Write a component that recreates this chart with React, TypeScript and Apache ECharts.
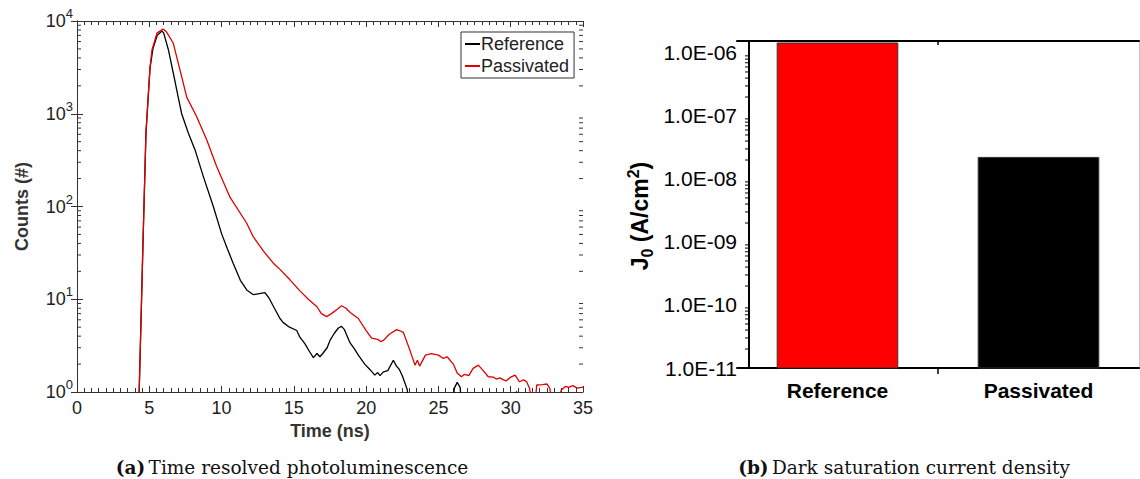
import React, { useEffect, useRef } from 'react';
import * as echarts from 'echarts';

// ---------- Data: (a) Time resolved photoluminescence ----------
const referenceTime = [4.0, 4.3, 4.45, 4.57, 4.77, 5.05, 5.25, 5.55, 5.88, 6.0, 6.32, 6.66, 7.0, 7.24, 7.7, 8.16, 8.74, 9.43, 10.0, 10.4, 10.8, 11.3, 11.74, 12.2, 12.6, 13.0, 13.3, 13.6, 14.04, 14.27, 14.7, 15.2, 15.42, 15.77, 16.1, 16.35, 16.6, 16.8, 17.0, 17.3, 17.5, 17.8, 18.08, 18.3, 18.5, 18.88, 19.2, 19.46, 19.9, 20.27, 20.6, 20.8, 20.96, 21.2, 21.5, 21.88, 22.1, 22.3, 22.5, 22.7, 22.85, 23.0, 25.9, 26.1, 26.3, 26.5, 26.7, 30.3, 30.4, 30.5, 35.0];
const referenceCounts = [0.5, 1.0, 8, 44, 620, 3100, 5000, 7000, 7800, 7400, 4900, 2750, 1510, 1000, 620, 410, 210, 100, 51, 35, 24.5, 16, 12.6, 11.2, 11.5, 11.8, 10.2, 8.3, 6.2, 5.6, 5.0, 4.6, 3.9, 3.3, 2.7, 2.35, 2.6, 2.4, 2.6, 3.0, 3.6, 4.3, 4.9, 5.1, 4.7, 3.4, 2.9, 2.5, 2.0, 1.74, 1.52, 1.62, 1.5, 1.65, 1.7, 2.2, 1.9, 1.75, 1.5, 1.23, 1.05, 0.5, 0.5, 1.1, 1.27, 1.12, 0.5, 0.5, 1.02, 0.5, 0.5];

const passivatedTime = [4.0, 4.3, 4.45, 4.57, 4.77, 5.05, 5.19, 5.53, 5.95, 6.2, 6.66, 7.24, 7.59, 8.28, 8.97, 9.66, 10.58, 11.74, 12.2, 12.9, 13.58, 14.04, 14.73, 15.42, 16.0, 16.6, 16.9, 17.27, 17.6, 18.0, 18.3, 18.6, 18.9, 19.46, 20.0, 20.38, 20.8, 21.0, 21.2, 21.6, 22.11, 22.3, 22.57, 23.0, 23.38, 23.55, 23.7, 24.1, 24.53, 25.0, 25.34, 25.6, 26.03, 26.3, 26.6, 26.8, 27.1, 27.4, 27.76, 28.1, 28.45, 28.8, 29.0, 29.25, 29.5, 29.7, 30.0, 30.3, 30.6, 30.9, 31.1, 31.3, 31.5, 31.7, 31.8, 32.2, 32.5, 32.7, 32.9, 33.3, 33.5, 33.8, 34.0, 34.3, 34.6, 35.0];
const passivatedCounts = [0.5, 1.0, 8, 44, 620, 3160, 4900, 7400, 8200, 7600, 5750, 2510, 1510, 930, 525, 270, 126, 66, 47, 33, 24.5, 21, 16.2, 12.3, 10.0, 8.3, 7.0, 6.5, 7.0, 7.8, 8.5, 8.0, 7.2, 6.2, 4.6, 3.8, 3.7, 3.5, 3.6, 4.2, 4.7, 4.6, 4.4, 2.9, 1.95, 2.2, 1.9, 2.5, 2.6, 2.5, 2.3, 2.4, 2.0, 1.6, 1.46, 1.55, 1.5, 1.8, 1.95, 1.7, 1.46, 1.45, 1.38, 1.42, 1.35, 1.32, 1.45, 1.52, 1.29, 1.35, 1.29, 1.1, 0.7, 0.8, 1.19, 1.2, 1.22, 1.1, 0.7, 0.8, 1.05, 1.15, 1.12, 1.17, 1.1, 1.13];

const timeMin = 0;
const timeMax = 35;
const timeInterval = 5;
const countsMin = 1;
const countsMax = 10000;

// ---------- Data: (b) Dark saturation current density ----------
const barCategories = ['Reference', 'Passivated'];
const barValues = [1.44e-6, 2.2e-8];
const barColors = ['#ff0000', '#000000'];
const j0Min = 1e-11;
const j0Max = 1.55e-6;

const captionA = 'Time resolved photoluminescence';
const captionB = 'Dark saturation current density';

const FONT = 'Liberation Sans, Arial, sans-serif';
const SERIF = 'DejaVu Serif, serif';

function logMinorTicks(minExp: number, maxExp: number, maxVal: number) {
  const out: number[] = [];
  for (let e = minExp; e <= maxExp; e++) {
    for (let k = 2; k <= 9; k++) {
      const v = k * Math.pow(10, e);
      if (v < maxVal) out.push(v);
    }
  }
  return out;
}

const countsMinor = logMinorTicks(0, 3, countsMax);
const j0Minor = logMinorTicks(-11, -6, j0Max);

const Y_OFFSET_B = -12;

export default function App() {
  const ref = useRef<HTMLDivElement>(null);

  useEffect(() => {
    if (!ref.current) return;
    const chart = echarts.init(ref.current, undefined, { renderer: 'svg' });

    const pow10Label = (v: number) => {
      const l = Math.log10(v);
      const e = Math.round(l);
      if (Math.abs(l - e) > 1e-6) return '';
      return `{b|10}{s|${e}}`;
    };
    const sciLabel = (v: number) => {
      const l = Math.log10(v);
      const e = Math.round(l);
      if (Math.abs(l - e) > 1e-6) return '';
      const a = Math.abs(e);
      return `1.0E${e < 0 ? '-' : '+'}${a < 10 ? '0' + a : a}`;
    };

    const axisColorA = '#333';
    const textColorA = '#222';

    const option: any = {
      animation: false,
      backgroundColor: '#fff',
      grid: [
        { left: 77, top: 21, width: 506, height: 371 },
        { left: 737, top: 41, width: 402, height: 327 },
      ],
      legend: {
        data: ['Reference', 'Passivated'],
        left: 461,
        top: 32,
        orient: 'vertical',
        icon: 'rect',
        itemWidth: 15,
        itemHeight: 2,
        itemGap: 4,
        padding: [3, 5, 3, 4],
        borderColor: '#333',
        borderWidth: 1,
        backgroundColor: '#fff',
        textStyle: { fontFamily: FONT, fontSize: 18, color: textColorA, padding: [0, 0, 0, -4] },
      },
      xAxis: [
        {
          type: 'value', gridIndex: 0, min: timeMin, max: timeMax, interval: timeInterval,
          axisLine: { lineStyle: { color: axisColorA, width: 1 } },
          axisTick: { inside: true, length: 6, lineStyle: { color: axisColorA } },
          minorTick: { show: true, splitNumber: 10, length: 4, lineStyle: { color: axisColorA } },
          axisLabel: { fontFamily: FONT, fontSize: 18, color: textColorA, margin: 7 },
          splitLine: { show: false },
          name: 'Time (ns)', nameLocation: 'middle', nameGap: 30,
          nameTextStyle: { fontFamily: FONT, fontSize: 18, fontWeight: 'bold', color: '#333' },
        },
        {
          type: 'value', gridIndex: 0, position: 'top', min: timeMin, max: timeMax, interval: timeInterval,
          axisLine: { lineStyle: { color: axisColorA, width: 1 } },
          axisTick: { inside: true, length: 6, lineStyle: { color: axisColorA } },
          minorTick: { show: true, splitNumber: 10, length: 4, lineStyle: { color: axisColorA } },
          axisLabel: { show: false },
          splitLine: { show: false },
        },
        {
          type: 'category', gridIndex: 1, data: barCategories,
          axisLine: { lineStyle: { color: '#000', width: 2 } },
          axisTick: { alignWithLabel: true, length: 6, lineStyle: { color: '#000', width: 1.5 } },
          axisLabel: { fontFamily: FONT, fontSize: 21, fontWeight: 'bold', color: '#000', margin: 12 },
          splitLine: { show: false },
        },
        {
          type: 'category', gridIndex: 1, position: 'top', data: barCategories,
          axisLine: { lineStyle: { color: '#000', width: 2 } },
          axisTick: { alignWithLabel: true, inside: true, length: 6, lineStyle: { color: '#000', width: 1.5 } },
          axisLabel: { show: false },
          splitLine: { show: false },
        },
      ],
      yAxis: [
        {
          type: 'log', gridIndex: 0, min: countsMin, max: countsMax, logBase: 10,
          axisLine: { show: true, lineStyle: { color: axisColorA, width: 1 } },
          axisTick: { inside: true, length: 6, lineStyle: { color: axisColorA } },
          axisLabel: {
            formatter: pow10Label, margin: 4,
            rich: {
              b: { fontFamily: FONT, fontSize: 18, color: textColorA, lineHeight: 28 },
              s: { fontFamily: FONT, fontSize: 13, color: textColorA, verticalAlign: 'top', lineHeight: 14 },
            },
          },
          splitLine: { show: false },
          name: 'Counts (#)', nameLocation: 'middle', nameGap: 46, nameRotate: 90,
          nameTextStyle: { fontFamily: FONT, fontSize: 18, fontWeight: 'bold', color: '#333' },
        },
        {
          type: 'log', gridIndex: 0, position: 'right', min: countsMin, max: countsMax, logBase: 10,
          axisLine: { show: true, lineStyle: { color: axisColorA, width: 1 } },
          axisTick: { inside: true, length: 6, lineStyle: { color: axisColorA } },
          axisLabel: { show: false },
          splitLine: { show: false },
        },
        {
          type: 'log', gridIndex: 1, min: j0Min, max: j0Max, logBase: 10, offset: Y_OFFSET_B,
          axisLine: { show: true, lineStyle: { color: '#000', width: 2 } },
          axisTick: { length: 11, lineStyle: { color: '#000', width: 1.5 } },
          axisLabel: { formatter: sciLabel, showMaxLabel: false, fontFamily: FONT, fontSize: 21, color: '#000', margin: 12 },
          splitLine: { show: false },
        },
        {
          type: 'log', gridIndex: 1, position: 'right', min: j0Min, max: j0Max, logBase: 10,
          axisLine: { show: true, lineStyle: { color: '#bbb', width: 1, type: 'dotted' } },
          axisTick: { inside: true, length: 4, lineStyle: { color: '#000', width: 1.5 } },
          axisLabel: { show: false },
          splitLine: { show: false },
        },
      ],
      series: [
        {
          name: 'Reference', type: 'line', xAxisIndex: 0, yAxisIndex: 0,
          data: referenceTime.map((t, i) => [t, referenceCounts[i]]),
          showSymbol: false, clip: true,
          lineStyle: { color: '#000', width: 1.3 }, itemStyle: { color: '#000' },
        },
        {
          name: 'Passivated', type: 'line', xAxisIndex: 0, yAxisIndex: 0,
          data: passivatedTime.map((t, i) => [t, passivatedCounts[i]]),
          showSymbol: false, clip: true,
          lineStyle: { color: '#e00000', width: 1.3 }, itemStyle: { color: '#e00000' },
        },
        {
          name: 'countsMinor', type: 'custom', xAxisIndex: 0, yAxisIndex: 0, silent: true,
          data: countsMinor.map((v) => [timeMin, v]),
          encode: { x: 0, y: 1 },
          renderItem: (params: any, api: any) => {
            const y = api.coord([timeMin, api.value(1)])[1];
            const cs = params.coordSys;
            return {
              type: 'group',
              children: [
                { type: 'line', shape: { x1: cs.x, y1: y, x2: cs.x + 4, y2: y }, style: { stroke: axisColorA, lineWidth: 1 } },
                { type: 'line', shape: { x1: cs.x + cs.width - 4, y1: y, x2: cs.x + cs.width, y2: y }, style: { stroke: axisColorA, lineWidth: 1 } },
              ],
            };
          },
        },
        {
          name: 'bars', type: 'custom', xAxisIndex: 2, yAxisIndex: 2,
          data: barValues.map((v, i) => [i, v]),
          encode: { x: 0, y: 1 },
          renderItem: (params: any, api: any) => {
            const idx = api.value(0);
            const top = api.coord([idx, api.value(1)]);
            const bottom = api.coord([idx, j0Min]);
            const bw = (params.coordSys.width / barCategories.length) * 0.6;
            return {
              type: 'rect',
              shape: { x: top[0] - bw / 2, y: top[1], width: bw, height: bottom[1] - top[1] },
              style: { fill: barColors[idx], stroke: '#333', lineWidth: 1 },
            };
          },
        },
        {
          name: 'j0Minor', type: 'custom', xAxisIndex: 2, yAxisIndex: 2, silent: true,
          data: j0Minor.map((v) => [0, v]),
          encode: { x: 0, y: 1 },
          renderItem: (params: any, api: any) => {
            const y = api.coord([0, api.value(1)])[1];
            const ax = params.coordSys.x - Y_OFFSET_B;
            return { type: 'line', shape: { x1: ax - 4, y1: y, x2: ax, y2: y }, style: { stroke: '#000', lineWidth: 1 } };
          },
        },
        {
          name: 'boundaryTicks', type: 'custom', xAxisIndex: 2, yAxisIndex: 2, silent: true,
          data: [[0, j0Min]],
          encode: { x: 0, y: 1 },
          renderItem: (params: any, api: any) => {
            const cs = params.coordSys;
            const xm = (api.coord([0, j0Min])[0] + api.coord([1, j0Min])[0]) / 2;
            const yb = cs.y + cs.height;
            return {
              type: 'group',
              children: [
                { type: 'line', shape: { x1: xm, y1: yb, x2: xm, y2: yb + 6 }, style: { stroke: '#000', lineWidth: 1.5 } },
                { type: 'line', shape: { x1: xm, y1: cs.y, x2: xm, y2: cs.y + 4 }, style: { stroke: '#000', lineWidth: 1.5 } },
              ],
            };
          },
        },
      ],
      graphic: [
        {
          type: 'text', x: 640, y: 216, rotation: Math.PI / 2,
          style: {
            text: '{b|J}{sub|0}{b| (A/cm}{sup|2}{b|)}',
            align: 'center', verticalAlign: 'middle',
            rich: {
              b: { fontFamily: FONT, fontSize: 23, fontWeight: 'bold', fill: '#000', lineHeight: 30 },
              sub: { fontFamily: FONT, fontSize: 16, fontWeight: 'bold', fill: '#000', verticalAlign: 'bottom', lineHeight: 15 },
              sup: { fontFamily: FONT, fontSize: 16, fontWeight: 'bold', fill: '#000', verticalAlign: 'top', lineHeight: 15 },
            },
          },
        },
        {
          type: 'text', x: 292, y: 467,
          style: {
            text: `{b|(a)} {n|${captionA}}`,
            align: 'center', verticalAlign: 'middle',
            rich: {
              b: { fontFamily: SERIF, fontSize: 18.5, fontWeight: 'bold', fill: '#111' },
              n: { fontFamily: SERIF, fontSize: 18.5, fill: '#111' },
            },
          },
        },
        {
          type: 'text', x: 904, y: 467,
          style: {
            text: `{b|(b)} {n|${captionB}}`,
            align: 'center', verticalAlign: 'middle',
            rich: {
              b: { fontFamily: SERIF, fontSize: 18.5, fontWeight: 'bold', fill: '#111' },
              n: { fontFamily: SERIF, fontSize: 18.5, fill: '#111' },
            },
          },
        },
      ],
    };

    chart.setOption(option);
    return () => chart.dispose();
  }, []);

  return (
    <div
      ref={ref}
      style={{ position: 'absolute', left: 0, top: 0, width: 1140, height: 479, background: '#fff' }}
    />
  );
}
